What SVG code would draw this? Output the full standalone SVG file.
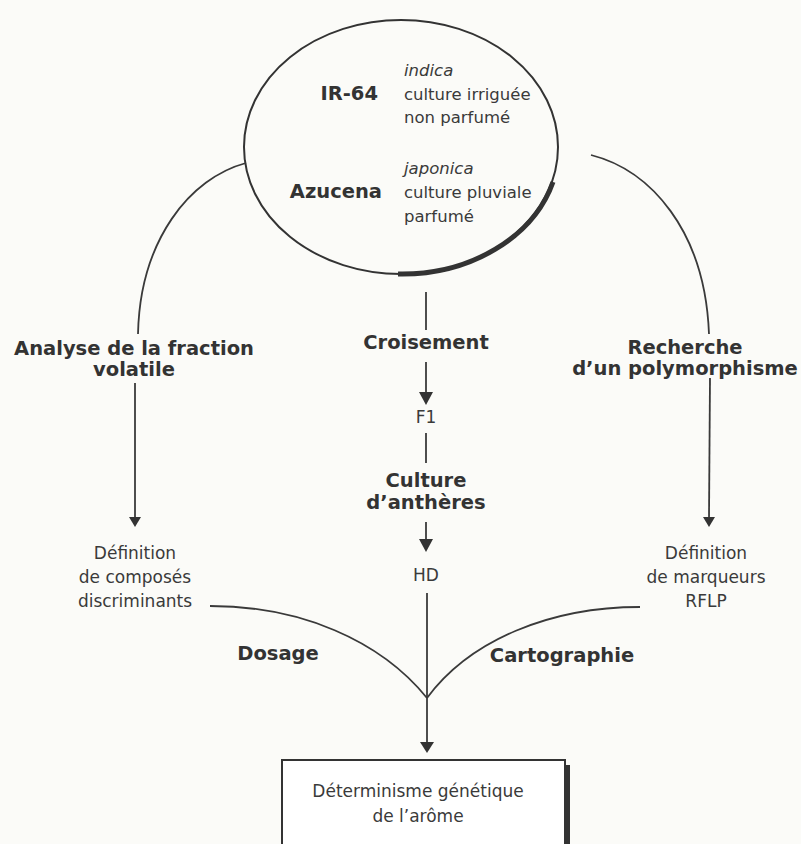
<svg xmlns="http://www.w3.org/2000/svg" width="801" height="844" viewBox="0 0 801 844">
<defs>
<style>
.bg{fill:#fbfbf8}
.ln{fill:none;stroke:#3a3a3a;stroke-width:1.8}
.rg{font-family:"DejaVu Sans","Liberation Sans",sans-serif;font-size:17px;fill:#3a3a3a;text-anchor:middle}
.el{font-size:16.5px}
.st{text-anchor:start}
.it{font-style:italic}
.bd{font-family:"DejaVu Sans","Liberation Sans",sans-serif;font-size:19.5px;font-weight:bold;fill:#333;text-anchor:middle}
.en{text-anchor:end}
</style>
</defs>
<rect class="bg" x="0" y="0" width="801" height="844"/>

<g id="parents">
<ellipse cx="401" cy="147" rx="157" ry="127" fill="none" stroke="#333" stroke-width="2"/>
<path d="M553,182 A157,127 0 0 1 398,274" fill="none" stroke="#333" stroke-width="5"/>
<text class="bd en" x="378" y="100" font-size="17">IR-64</text>
<text class="rg el st it" x="404" y="76">indica</text>
<text class="rg el st" x="404" y="100">culture irriguée</text>
<text class="rg el st" x="404" y="123">non parfumé</text>
<text class="bd en" x="382" y="198" font-size="17">Azucena</text>
<text class="rg el st it" x="404" y="174">japonica</text>
<text class="rg el st" x="404" y="198">culture pluviale</text>
<text class="rg el st" x="404" y="222">parfumé</text>
</g>

<g id="analyse"><text class="bd" x="134" y="355">Analyse de la fraction</text><text class="bd" x="134" y="376">volatile</text></g>
<g id="croisement"><text class="bd" x="426" y="349">Croisement</text></g>
<g id="recherche"><text class="bd" x="685" y="354">Recherche</text><text class="bd" x="685" y="375">d’un polymorphisme</text></g>
<g id="f1"><text class="rg" x="426" y="423">F1</text></g>
<g id="culture"><text class="bd" x="426" y="487">Culture</text><text class="bd" x="426" y="509">d’anthères</text></g>
<g id="hd"><text class="rg" x="426" y="581">HD</text></g>
<g id="composes"><text class="rg" x="135" y="559">Définition</text><text class="rg" x="135" y="583">de composés</text><text class="rg" x="135" y="607">discriminants</text></g>
<g id="marqueurs"><text class="rg" x="706" y="559">Définition</text><text class="rg" x="706" y="583">de marqueurs</text><text class="rg" x="706" y="607">RFLP</text></g>
<g id="dosage"><text class="bd" x="278" y="660" font-size="17">Dosage</text></g>
<g id="cartographie"><text class="bd" x="562" y="662" font-size="17">Cartographie</text></g>
<g id="determinisme">
<rect x="282" y="760" width="283" height="90" fill="#fff" stroke="#333" stroke-width="2"/>
<rect x="565" y="765" width="5" height="85" fill="#333"/>
<text class="rg" x="418" y="797">Déterminisme génétique</text>
<text class="rg" x="418" y="822">de l’arôme</text>
</g>

<g id="connectors">
<path class="ln" d="M246,163 C190,178 140,240 138,334"/>
<path class="ln" d="M135,383 L135,518"/>
<path d="M129,517 L141,517 L135,527 Z" fill="#333"/>
<path class="ln" d="M591,155 C650,170 705,230 709,334"/>
<path class="ln" d="M710,378 L709,518"/>
<path d="M703,517 L715,517 L709,527 Z" fill="#333"/>
<path class="ln" d="M426,292 L426,330"/>
<path class="ln" d="M426,362 L426,395"/>
<path d="M419,392 L433,392 L426,405 Z" fill="#333"/>
<path class="ln" d="M426,433 L426,463"/>
<path class="ln" d="M426,522 L426,542"/>
<path d="M419,539 L433,539 L426,552 Z" fill="#333"/>
<path class="ln" d="M427,593 L427,745"/>
<path d="M420,742 L434,742 L427,753 Z" fill="#333"/>
<path class="ln" d="M210,606 C300,606 380,640 427,698"/>
<path class="ln" d="M640,607 C550,607 470,640 427,698"/>
</g>
</svg>
